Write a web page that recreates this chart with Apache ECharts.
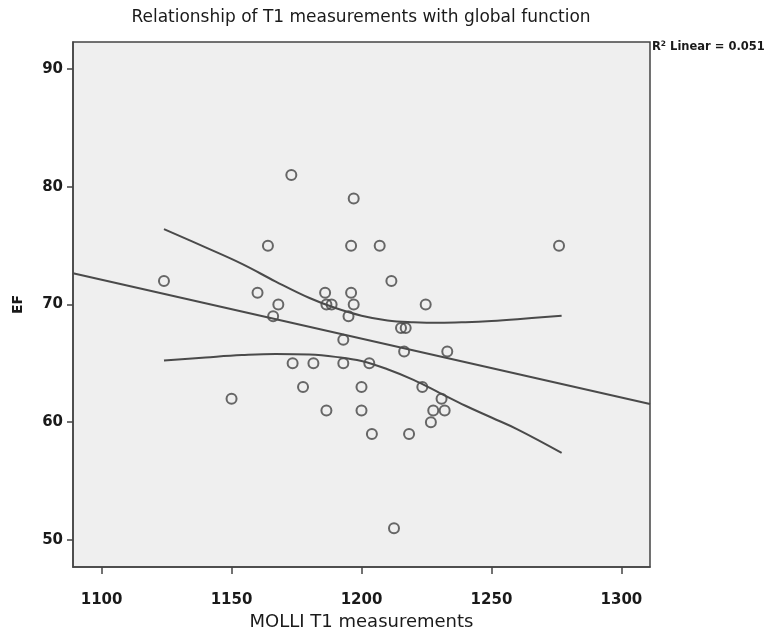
<!DOCTYPE html>
<html>
<head>
<meta charset="utf-8">
<script src="https://cdn.jsdelivr.net/npm/echarts@6/dist/echarts.min.js"></script>
<style>html,body{margin:0;padding:0;background:#fff;}#chart{width:771px;height:630px;}</style>
</head>
<body>
<div id="chart"></div>
<script>
// Scatter data: MOLLI T1 (x) vs EF (y)
const t1Values = [1124,1150,1160,1164,1166,1168,1173,1173.5,1177.5,1181.5,1186,1186.5,1186.5,1188.5,1193,1193,1195,1196,1196,1197,1197,1200,1200,1203,1204,1207,1211.5,1212.5,1215.2,1217,1216.4,1218.3,1223.4,1224.7,1226.7,1227.6,1230.8,1232,1233,1276];
const efValues = [72,62,71,75,69,70,81,65,63,65,71,61,70,70,67,65,69,75,71,70,79,63,61,65,59,75,72,51,68,68,66,59,63,70,60,61,62,61,66,75];

// Linear fit line endpoints
const fitX = [1089, 1311];
const fitY = [72.65, 61.55];

// 95% confidence band of the mean
const bandX = [1124, 1140, 1154, 1167, 1180, 1190, 1200, 1210, 1220, 1230, 1240, 1250, 1260, 1277];
const upperY = [76.4, 74.85, 73.45, 71.95, 70.55, 69.7, 69.05, 68.65, 68.5, 68.45, 68.5, 68.6, 68.75, 69.05];
const lowerY = [65.25, 65.5, 65.7, 65.8, 65.75, 65.55, 65.2, 64.5, 63.6, 62.5, 61.4, 60.4, 59.4, 57.4];

// Axis ticks
const xTicks = [1100, 1150, 1200, 1250, 1300];
const yTicks = [50, 60, 70, 80, 90];

const zip = (a, b) => a.map((v, i) => [v, b[i]]);

const chart = echarts.init(document.getElementById('chart'), null, {renderer: 'canvas'});
const lineColor = '#4a4a4a';
chart.setOption({
  animation: false,
  backgroundColor: '#ffffff',
  grid: {
    left: 73, right: 121, top: 42, bottom: 63,
    outerBoundsMode: 'none', containLabel: false,
    show: true, backgroundColor: '#efefef', borderColor: '#444', borderWidth: 1.5
  },
  graphic: [
    {type: 'text', x: 361, y: 18, style: {
      text: 'Relationship of T1 measurements with global function',
      font: '17px "DejaVu Sans"', fill: '#1a1a1a', align: 'center', verticalAlign: 'middle'
    }},
    {type: 'text', x: 652, y: 47, style: {
      text: '{b|R}{s|2}{b| Linear = 0.051}',
      rich: {
        b: {font: 'bold 11.5px "DejaVu Sans"', fill: '#1a1a1a', verticalAlign: 'bottom'},
        s: {font: 'bold 7.5px "DejaVu Sans"', fill: '#1a1a1a', verticalAlign: 'top', padding: [0, 0, 5, 0]}
      },
      verticalAlign: 'middle'
    }}
  ],
  xAxis: {
    type: 'value', min: 1089, max: 1311,
    name: 'MOLLI T1 measurements', nameLocation: 'middle', nameGap: 46,
    nameTextStyle: {fontFamily: 'DejaVu Sans', fontSize: 18, color: '#1a1a1a'},
    splitLine: {show: false},
    axisLine: {show: true, onZero: false, lineStyle: {color: '#444', width: 1.5}},
    axisTick: {show: true, customValues: xTicks, length: 7, lineStyle: {color: '#444', width: 1.5}},
    axisLabel: {customValues: xTicks, margin: 26, formatter: v => String(v),
      fontFamily: 'DejaVu Sans', fontWeight: 'bold', fontSize: 15, color: '#1a1a1a'}
  },
  yAxis: {
    type: 'value', min: 47.7, max: 92.3,
    name: 'EF', nameLocation: 'middle', nameGap: 48, nameRotate: 90,
    nameTextStyle: {fontFamily: 'DejaVu Sans', fontWeight: 'bold', fontSize: 14, color: '#1a1a1a'},
    splitLine: {show: false},
    axisLine: {show: true, onZero: false, lineStyle: {color: '#444', width: 1.5}},
    axisTick: {show: true, customValues: yTicks, length: 6, lineStyle: {color: '#444', width: 1.5}},
    axisLabel: {customValues: yTicks, margin: 10, formatter: v => String(v),
      fontFamily: 'DejaVu Sans', fontWeight: 'bold', fontSize: 15, color: '#1a1a1a'}
  },
  series: [
    {type: 'line', data: zip(fitX, fitY), symbol: 'none', clip: true,
     lineStyle: {color: lineColor, width: 2}},
    {type: 'line', data: zip(bandX, upperY), symbol: 'none', smooth: 0.4,
     lineStyle: {color: lineColor, width: 2}},
    {type: 'line', data: zip(bandX, lowerY), symbol: 'none', smooth: 0.4,
     lineStyle: {color: lineColor, width: 2}},
    {type: 'scatter', data: zip(t1Values, efValues), symbol: 'circle', symbolSize: 10,
     itemStyle: {color: 'rgba(0,0,0,0)', borderColor: '#444', borderWidth: 2}}
  ]
});
</script>
</body>
</html>
